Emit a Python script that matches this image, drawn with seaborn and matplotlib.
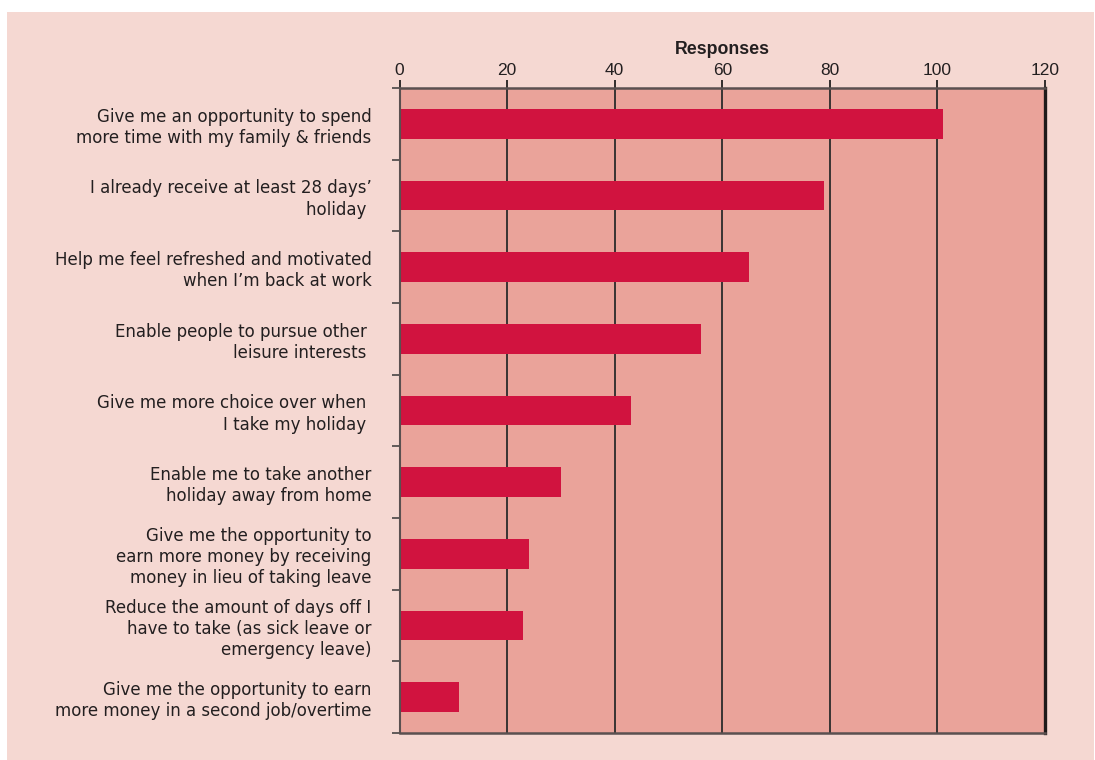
import matplotlib
matplotlib.use("Agg")
import matplotlib.pyplot as plt
import seaborn as sns
import pandas as pd
from matplotlib.patches import Rectangle
from matplotlib.ticker import FixedLocator

# Survey data: reasons given and number of responses
reasons = [
    "Give me an opportunity to spend\nmore time with my family & friends",
    "I already receive at least 28 days\u2019\nholiday ",
    "Help me feel refreshed and motivated\nwhen I\u2019m back at work",
    "Enable people to pursue other \nleisure interests ",
    "Give me more choice over when \nI take my holiday ",
    "Enable me to take another\nholiday away from home",
    "Give me the opportunity to\nearn more money by receiving\nmoney in lieu of taking leave",
    "Reduce the amount of days off I\nhave to take (as sick leave or\nemergency leave)",
    "Give me the opportunity to earn\nmore money in a second job/overtime",
]
responses = [101, 79, 65, 56, 43, 30, 24, 23, 11]
x_ticks = [0, 20, 40, 60, 80, 100, 120]

PANEL = "#f5d8d2"
PLOT_BG = "#eaa39a"
BAR = "#d1133f"
INK = "#231f20"

sns.set_theme(style="white")
plt.rcParams["font.family"] = ["Liberation Sans", "DejaVu Sans"]

W, H = 1095, 760
fig = plt.figure(figsize=(W / 100, H / 100), dpi=100, facecolor="white")
fig.patches.append(Rectangle((7 / W, 0), (1094 - 7) / W, (760 - 12) / H,
                             transform=fig.transFigure, facecolor=PANEL,
                             edgecolor="none", zorder=-10))

left, right, top, bottom = 399.5, 1045, 88, 733
ax = fig.add_axes([left / W, 1 - bottom / H, (right - left) / W, (bottom - top) / H])
ax.set_zorder(1)
ax.set_facecolor(PLOT_BG)
ax.set_axisbelow(True)

df = pd.DataFrame({"reason": reasons, "responses": responses})
sns.barplot(data=df, x="responses", y="reason", orient="h", color=BAR,
            saturation=1, width=0.41, linewidth=0, edgecolor=BAR, ax=ax)

ax.set_xlim(0, 120)
ax.set_ylim(len(reasons) - 0.5, -0.5)

# x axis along the top
ax.xaxis.tick_top()
ax.xaxis.set_label_position("top")
ax.set_xticks(x_ticks)
ax.tick_params(axis="x", top=True, bottom=False, length=6, width=1.3,
               color=INK, pad=1, labelsize=12.5, labelcolor=INK)
for lbl in ax.get_xticklabels():
    lbl.set_fontfamily(["Liberation Sans"])
ax.set_xlabel("Responses", fontsize=12.8, fontweight="bold", color=INK,
              labelpad=7, fontfamily=["Liberation Sans"])
ax.xaxis.grid(True, color="#2b2b2b", linewidth=1.3)

# y axis: labels without ticks, separators between categories
ax.set_ylabel("")
ax.tick_params(axis="y", left=True, length=0, pad=20, labelcolor=INK)
ax.yaxis.set_minor_locator(FixedLocator([i - 0.5 for i in range(len(reasons) + 1)]))
ax.tick_params(axis="y", which="minor", left=True, length=5.5, width=1.3, color="#555050")
for lbl in ax.get_yticklabels():
    lbl.set_fontfamily(["DejaVu Sans"])
    lbl.set_fontsize(12)
    lbl.set_linespacing(1.22)
    lbl.set_horizontalalignment("right")

for side in ["top", "bottom"]:
    ax.spines[side].set_color("#5a5050")
    ax.spines[side].set_linewidth(1.8)
ax.spines["left"].set_color("#5a5050")
ax.spines["left"].set_linewidth(1.5)
ax.spines["right"].set_color("#1e1a1a")
ax.spines["right"].set_linewidth(2.4)

fig.savefig("out.png", dpi=100, facecolor="white")
